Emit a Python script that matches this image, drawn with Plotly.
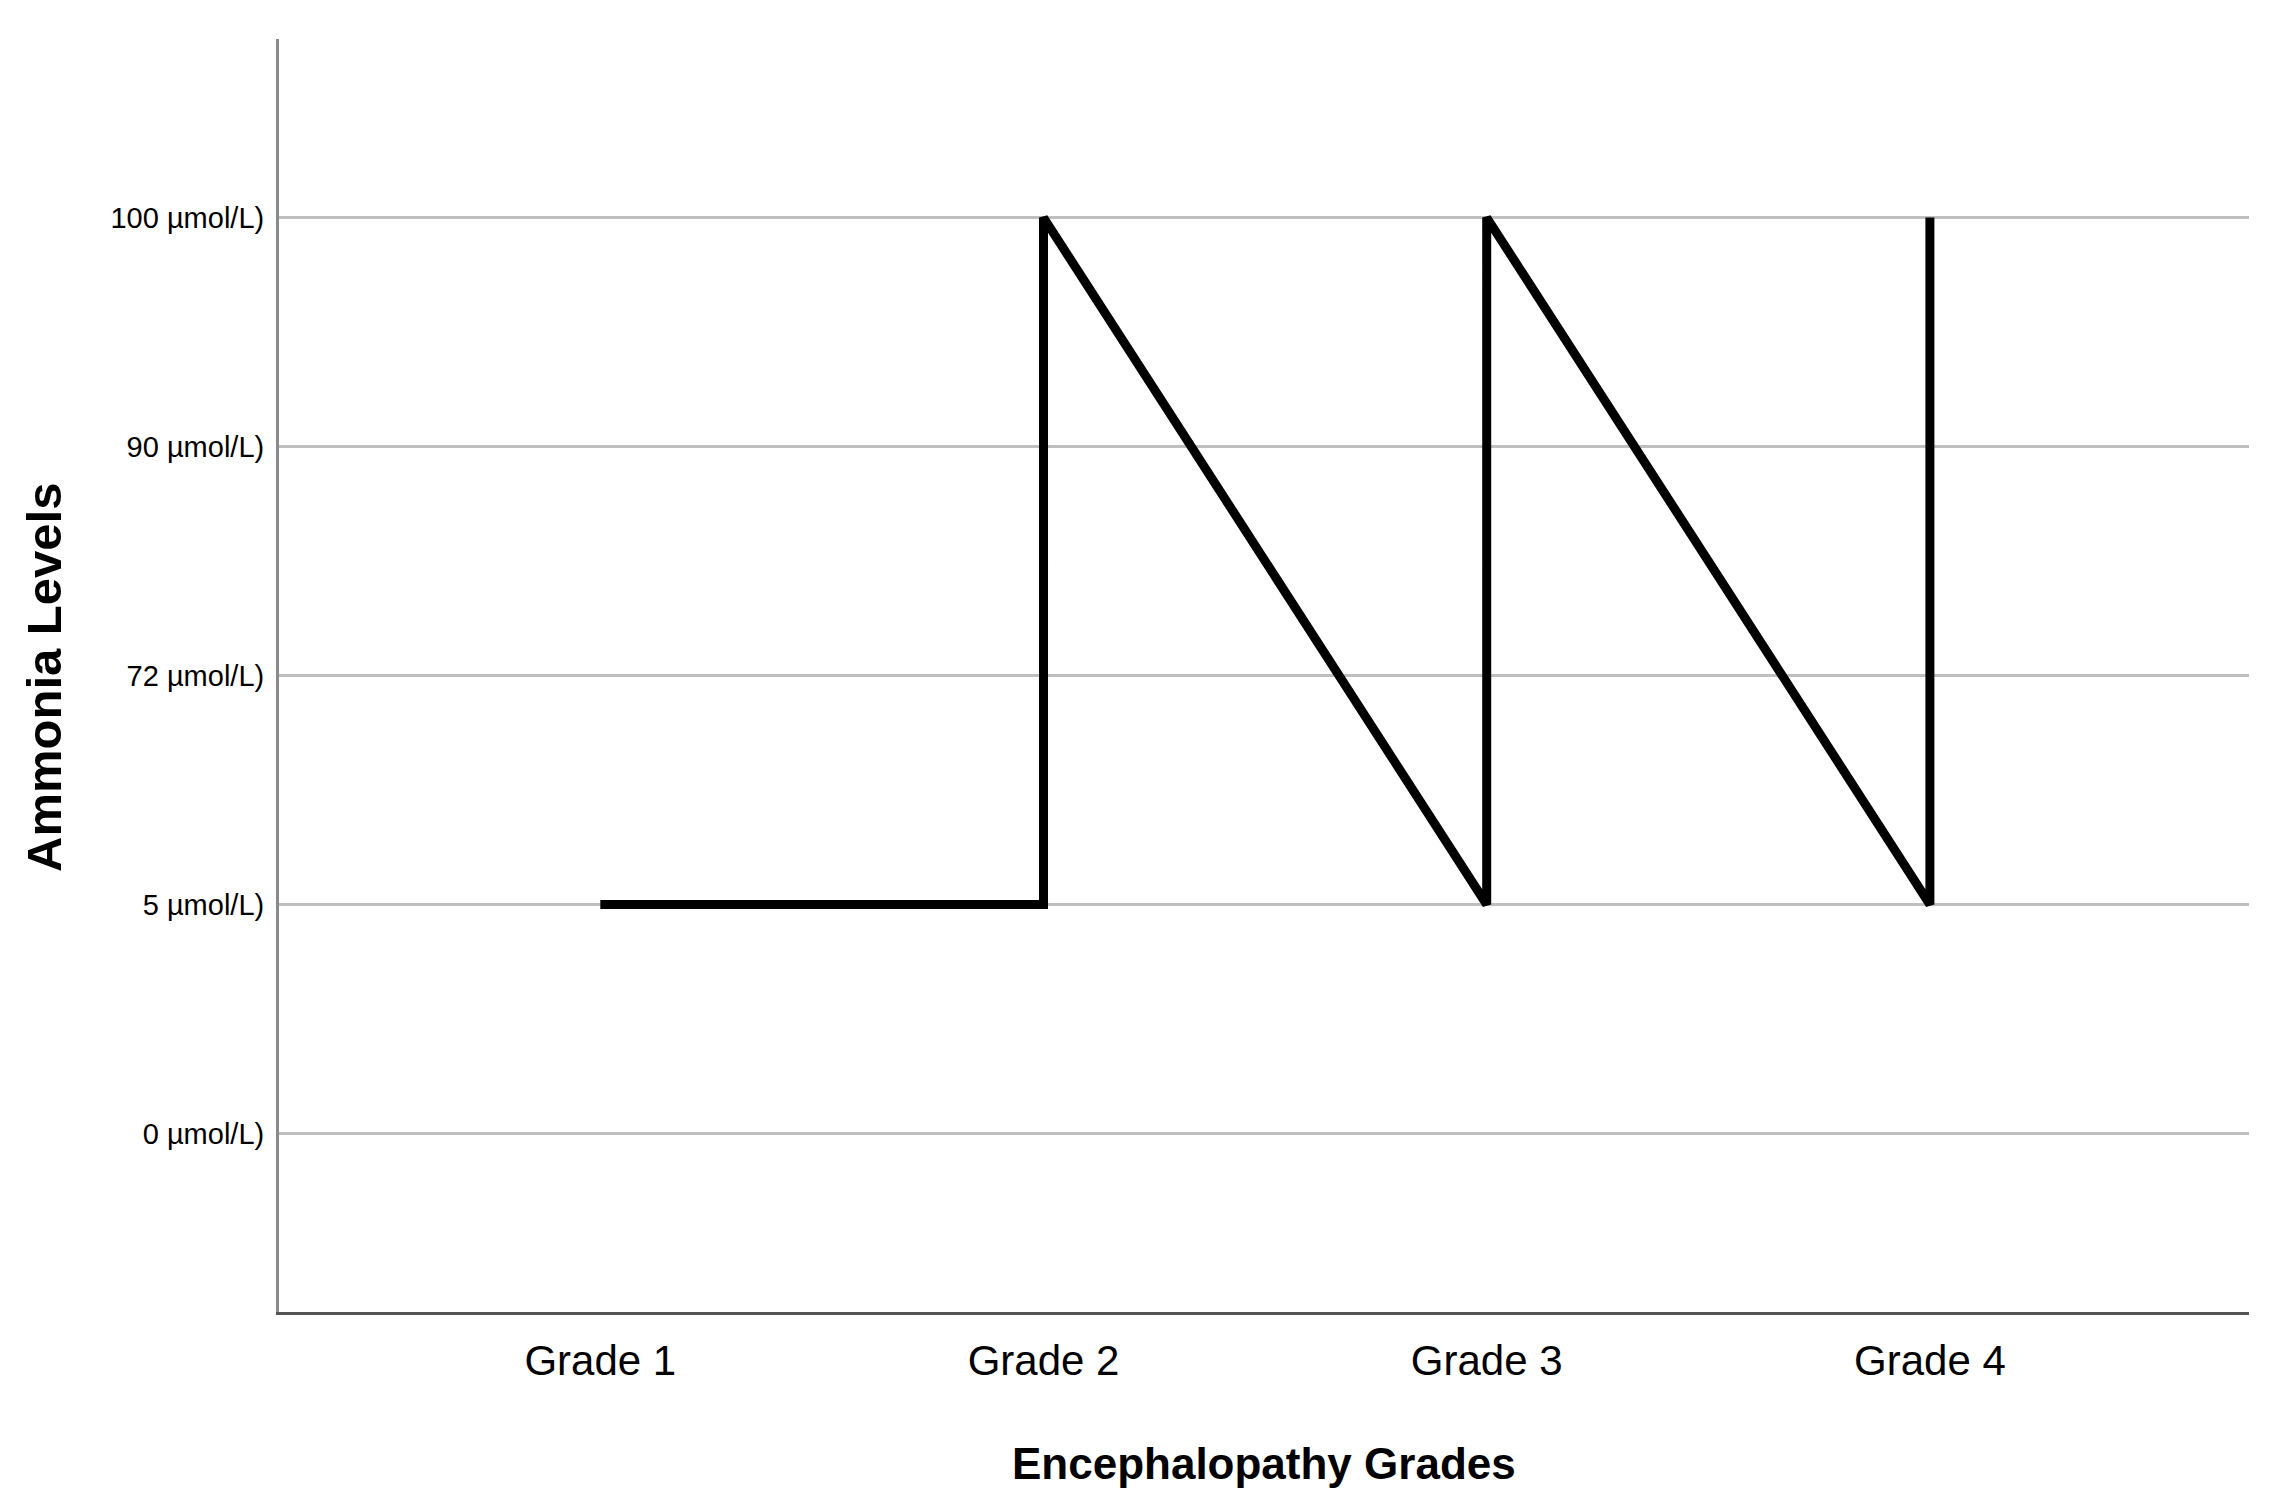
import plotly.graph_objects as go

grades = ["Grade 1", "Grade 2", "Grade 2", "Grade 3", "Grade 3", "Grade 4", "Grade 4"]
ammonia = ["5 µmol/L)", "5 µmol/L)", "100 µmol/L)", "5 µmol/L)", "100 µmol/L)", "5 µmol/L)", "100 µmol/L)"]
x_categories = ["Grade 1", "Grade 2", "Grade 3", "Grade 4"]
y_categories = ["0 µmol/L)", "5 µmol/L)", "72 µmol/L)", "90 µmol/L)", "100 µmol/L)"]

FONT = "Liberation Sans Narrow, Arial Narrow, Liberation Sans, Arial, sans-serif"
BOLD = "Liberation Sans, Arial, sans-serif"

fig = go.Figure()
fig.add_trace(go.Scatter(
    x=grades, y=ammonia, mode="lines",
    line=dict(color="black", width=9),
    showlegend=False,
))

fig.update_layout(
    width=2273, height=1510,
    margin=dict(l=271, r=32, t=31, b=206, autoexpand=False),
    paper_bgcolor="white", plot_bgcolor="white",
    font=dict(family=FONT, color="black"),
    xaxis=dict(
        type="category", categoryorder="array", categoryarray=x_categories,
        range=[-0.725, 3.72],
        showgrid=False, zeroline=False,
        showline=True, linecolor="#555555", linewidth=3,
        ticks="", tickfont=dict(size=42, family=FONT), ticklabelstandoff=10,
        automargin=False,
    ),
    yaxis=dict(
        type="category", categoryorder="array", categoryarray=y_categories,
        range=[-0.78, 4.78],
        showgrid=True, gridcolor="#bfbfbf", gridwidth=3,
        zeroline=False,
        showline=True, linecolor="#8a8a8a", linewidth=3,
        ticks="", tickfont=dict(size=29, family=FONT), ticklabelstandoff=6,
        automargin=False,
    ),
    annotations=[
        dict(text="<b>Encephalopathy Grades</b>", xref="paper", yref="paper",
             x=0.5, y=-0.1194, xanchor="center", yanchor="middle", showarrow=False,
             font=dict(size=44, family=BOLD, color="black")),
        dict(text="<b>Ammonia Levels</b>", xref="paper", yref="paper",
             x=-0.1193, y=0.4988, xanchor="center", yanchor="middle", showarrow=False,
             textangle=-90, font=dict(size=49, family=BOLD, color="black")),
    ],
)

fig.write_html("out.html")
